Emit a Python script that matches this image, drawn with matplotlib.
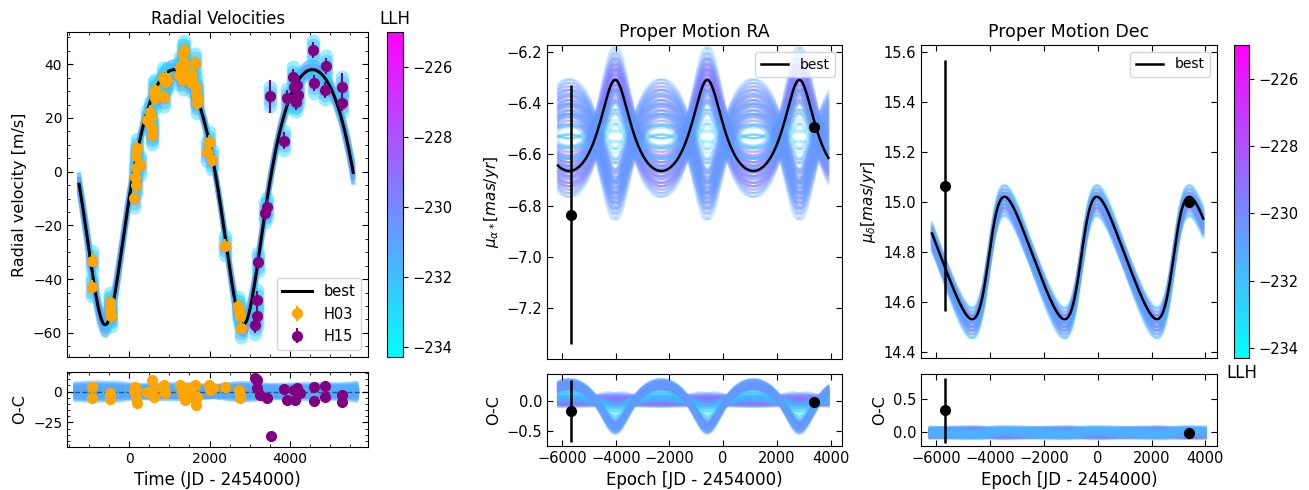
import itertools
import numpy as np
import matplotlib
matplotlib.use("Agg")
import matplotlib.pyplot as plt
from matplotlib.colors import Normalize
from matplotlib.cm import ScalarMappable
from matplotlib.ticker import MultipleLocator

# ---------------- data ----------------
h03_t = [-920, -915, -470, -465, -462, -458, 116, 150, 165, 175, 185, 195, 270,
         447, 529, 545, 560, 571, 630, 635, 640, 853, 862, 900, 930, 944,
         1250, 1275, 1300, 1330, 1350, 1358, 1370, 1400, 1430, 1557, 1570,
         1648, 1660, 1675, 1690, 1700, 1937, 1979, 2062, 2385, 2717, 2735,
         2758, 2790]
h03_rv = [-33.1, -42.9, -48.5, -50.5, -52.5, -53.8, -9.8, -1.8, -4.9, 1.3, 5.7,
          8.8, 2.4, 19.3, 22.4, 20.5, 16.2, 13.7, 29.8, 27.3, 30.5, 35.0, 27.9,
          33.5, 34.8, 34.2, 36.0, 39.1, 38.0, 34.2, 43.7, 45.3, 40.5, 37.5, 36.5,
          36.0, 33.0, 40.4, 31.7, 29.2, 27.9, 25.5, 7.5, 11.2, 4.4, -27.5, -50.1,
          -52.0, -53.8, -58.1]
h03_err = [2.5] * len(h03_t)

h15_t = [3130, 3172, 3175, 3212, 3379, 3437, 3503, 3851, 3934, 4083, 4100, 4124,
         4140, 4180, 4207, 4580, 4590, 4870, 4894, 5284, 5290]
h15_rv = [-56.9, -47.6, -53.8, -33.6, -15.2, -13.2, 28.0, 11.6, 27.3, 35.4, 31.7,
          27.3, 26.0, 32.3, 28.6, 45.3, 32.9, 30.4, 39.4, 31.7, 25.7]
h15_err = [3, 3, 3, 3, 3, 3, 6, 3, 3, 3, 3, 3, 3, 3, 3, 3, 3, 3, 3, 5, 3]

h03_oc_t = [-919, -915, -470, -465, -460, 130, 150, 165, 175, 190, 447, 571, 612,
            620, 862, 870, 900, 1267, 1308, 1350, 1391, 1433, 1516, 1557, 1640,
            1660, 1681, 1980, 2000, 2080, 2393, 2740, 2750, 2758]
h03_oc = [4.1, -4.9, -1.0, -4.0, -6.0, 0.5, 4.1, 1.4, -5.4, -9.5, 0.0, 9.5, 2.7,
          -4.0, 5.4, 1.4, -1.0, 5.5, 0.0, -2.7, -6.8, 2.7, 0.0, -4.0, 5.5, -10.9,
          -4.0, 5.4, 1.4, 2.7, 4.1, 1.4, -2.7, -5.4]
h03_oc_err = [2.5] * len(h03_oc_t)

h15_oc_t = [3138, 3180, 3185, 3263, 3429, 3528, 3843, 3925, 4091, 4133, 4174,
            4257, 4588, 4590, 4878, 4880, 5292, 5295]
h15_oc = [11.4, 9.5, 2.7, -2.7, -5.4, -36.1, 2.2, -6.8, 1.4, -6.8, 2.7, -1.0,
          3.8, -7.6, 4.9, -4.0, -2.7, -8.1]
h15_oc_err = [3, 3, 3, 3, 3, 4, 3, 3, 3, 3, 3, 3, 3, 3, 3, 3, 3, 4]

pm_epoch = [-5651, 3389]
pmra_obs = [-6.835, -6.492]
pmra_err = [0.505, 0.015]
pmdec_obs = [15.064, 14.998]
pmdec_err = [0.503, 0.015]

# best-fit orbit parameters
P_best, tp_best, e_best, omega_best = 3430.0, -590.0, 0.24, np.pi
K_best, gamma_best = 47.5, 1.9
ra_amp, ra_off = 0.1775, -6.530
dec_amp, dec_phase, dec_off = 0.245, 1.49, 14.775

# posterior-sample ensemble (explicit parameter lists)
rv_dK = [-2.0, 0.0, 2.0]
rv_dP = [-25.0, 0.0, 25.0]
rv_dgam = [-1.5, 0.0, 1.5]
halo_shift = [-3.5, -1.8, 0.0, 1.8, 3.5]
halo_llh = [-232.8, -231.7, -230.4, -231.7, -232.8]

ra_frac = [1.3, 1.2, 1.1, 1.0, 0.9, 0.75, 0.5, 0.2, -0.2, -0.5, -0.75, -0.9,
           -1.0, -1.1, -1.2]
ra_frac_llh = [-230.9, -229.7, -228.9, -228.2, -228.7, -229.9, -231.4, -232.8,
               -232.8, -231.4, -230.2, -229.4, -229.0, -229.6, -230.6]
ra_dc = [-0.06, -0.02, 0.02, 0.06]
ra_dt = [-80.0, 0.0, 80.0]

dec_gain = [0.88, 0.94, 1.0, 1.06, 1.12]
dec_gain_llh = [-231.4, -229.5, -228.2, -229.1, -230.8]
dec_dc = [-0.045, -0.015, 0.015]
dec_dphi = [-0.07, 0.0, 0.07]

llh_min, llh_max = -234.3, -225.0
cbar_ticks = [-234, -232, -230, -228, -226]

# ---------------- helpers ----------------
cmap = plt.get_cmap("cool")
norm = Normalize(vmin=llh_min, vmax=llh_max)


def true_anomaly(t, P, tp, e):
    M = 2 * np.pi * (np.asarray(t, float) - tp) / P
    M = np.mod(M + np.pi, 2 * np.pi) - np.pi
    E = M.copy()
    for _ in range(40):
        E = E - (E - e * np.sin(E) - M) / (1 - e * np.cos(E))
    return 2 * np.arctan2(np.sqrt(1 + e) * np.sin(E / 2), np.sqrt(1 - e) * np.cos(E / 2))


def rv_model(t, P, tp, e, w, K, g):
    nu = true_anomaly(t, P, tp, e)
    return K * (np.cos(nu + w) + e * np.cos(w)) + g


t_rv = np.linspace(-1240, 5570, 800)
t_pm = np.linspace(-6150, 3920, 900)

fig = plt.figure(figsize=(13.09, 4.90), dpi=100)


def style(ax, fs=10):
    ax.tick_params(direction="in", top=True, right=True, which="both", labelsize=fs)
    ax.tick_params(which="major", length=4)
    ax.tick_params(which="minor", length=2)


# ================= Radial velocities =================
ax1 = fig.add_axes([0.0512, 0.2714, 0.2300, 0.6633])
ax1o = fig.add_axes([0.0512, 0.0878, 0.2300, 0.1531])

best_rv = rv_model(t_rv, P_best, tp_best, e_best, omega_best, K_best, gamma_best)
t_ref = 2000.0
for dK, dP, dg in itertools.product(rv_dK, rv_dP, rv_dgam):
    Ps = P_best + dP
    tps = t_ref - (t_ref - tp_best) * Ps / P_best
    ys = rv_model(t_rv, Ps, tps, e_best, omega_best, K_best + dK, gamma_best + dg)
    score = abs(dK) / 2 + abs(dP) / 25 + abs(dg) / 1.5
    llh = -229.4 - 0.8 * score
    c = cmap(norm(llh))
    ax1.plot(t_rv, ys, color=c, lw=3, alpha=0.35, zorder=1)
    ax1o.plot(t_rv, ys - best_rv, color=c, lw=8, alpha=0.3, zorder=1)

for sh, hl in zip(halo_shift, halo_llh):
    c = cmap(norm(hl))
    ax1.plot(h03_t, np.array(h03_rv) + sh, "o", ms=10, color=c, mec="none", alpha=0.45, zorder=2)
    ax1.plot(h15_t, np.array(h15_rv) + sh, "o", ms=10, color=c, mec="none", alpha=0.45, zorder=2)

ax1.plot(t_rv, best_rv, color="k", lw=2.2, zorder=3, label="best")
ax1.errorbar(h03_t, h03_rv, yerr=h03_err, fmt="o", color="orange", ms=7, zorder=4, label="H03")
ax1.errorbar(h15_t, h15_rv, yerr=h15_err, fmt="o", color="purple", ms=7, zorder=4, label="H15")
ax1.set_xlim(-1540, 5940)
ax1.set_ylim(-69, 52)
ax1.xaxis.set_major_locator(MultipleLocator(2000))
ax1.xaxis.set_minor_locator(MultipleLocator(500))
ax1.yaxis.set_major_locator(MultipleLocator(20))
ax1.yaxis.set_minor_locator(MultipleLocator(5))
style(ax1, fs=10)
ax1.tick_params(labelbottom=False)
ax1.set_ylabel("Radial velocity [m/s]", fontsize=11.5)
ax1.set_title("Radial Velocities", fontsize=11.9)
ax1.legend(loc="lower right", fontsize=10.5)

ax1o.axhline(0, color="k", ls="--", lw=1, alpha=0.5, zorder=2)
ax1o.errorbar(h03_oc_t, h03_oc, yerr=h03_oc_err, fmt="o", color="orange", ms=7, zorder=4)
ax1o.errorbar(h15_oc_t, h15_oc, yerr=h15_oc_err, fmt="o", color="purple", ms=7, zorder=4)
ax1o.set_xlim(-1540, 5940)
ax1o.set_ylim(-45, 16)
ax1o.xaxis.set_major_locator(MultipleLocator(2000))
ax1o.xaxis.set_minor_locator(MultipleLocator(500))
ax1o.yaxis.set_major_locator(MultipleLocator(25))
ax1o.yaxis.set_minor_locator(MultipleLocator(5))
style(ax1o, fs=10)
ax1o.set_ylabel("O-C", fontsize=11.5)
ax1o.set_xlabel("Time (JD - 2454000)", fontsize=12)

cax1 = fig.add_axes([0.2956, 0.2714, 0.0122, 0.6633])
cb1 = fig.colorbar(ScalarMappable(norm=norm, cmap=cmap), cax=cax1, ticks=cbar_ticks)
cb1.ax.tick_params(labelsize=10.5)
cax1.set_title("LLH", fontsize=12)

# ================= Proper motion RA =================
ax2 = fig.add_axes([0.4179, 0.2673, 0.2254, 0.6408])
ax2o = fig.add_axes([0.4179, 0.0898, 0.2254, 0.1470])

nu_best = true_anomaly(t_pm, P_best, tp_best, e_best)
best_ra = ra_off + ra_amp * (np.cos(nu_best) + e_best)
for (f, fl), dc, dt in itertools.product(list(zip(ra_frac, ra_frac_llh)), ra_dc, ra_dt):
    nu_s = true_anomaly(t_pm, P_best, tp_best + dt, e_best)
    ys = ra_off + dc + f * ra_amp * (np.cos(nu_s) + e_best)
    llh = fl - 0.4 * (abs(dc) / 0.06 + abs(dt) / 80)
    c = cmap(norm(llh))
    a = 0.10 if llh < -232.3 else 0.26
    ax2.plot(t_pm, ys, color=c, lw=1.5, alpha=a, zorder=1)
    ax2o.plot(t_pm, ys - best_ra, color=c, lw=1.5, alpha=a, zorder=1)

ax2.plot(t_pm, best_ra, color="k", lw=1.8, zorder=3, label="best")
ax2.errorbar(pm_epoch, pmra_obs, yerr=pmra_err, fmt="o", color="k", ms=7, lw=1.8, zorder=4)
ax2.set_xlim(-6560, 4430)
ax2.set_ylim(-7.398, -6.174)
ax2.xaxis.set_major_locator(MultipleLocator(2000))
ax2.yaxis.set_major_locator(MultipleLocator(0.2))
style(ax2, fs=10.5)
ax2.tick_params(labelbottom=False)
ax2.set_ylabel(r"$\mu_{\alpha *} [mas/yr]$", fontsize=11)
ax2.set_title("Proper Motion RA", fontsize=12.5)
ax2.legend(loc="upper right", fontsize=10)

best_ra_obs = ra_off + ra_amp * (np.cos(true_anomaly(pm_epoch, P_best, tp_best, e_best)) + e_best)
ax2o.errorbar(pm_epoch, np.array(pmra_obs) - best_ra_obs, yerr=pmra_err, fmt="o", color="k",
              ms=7, lw=1.8, zorder=4)
ax2o.set_xlim(-6560, 4430)
ax2o.set_ylim(-0.747, 0.44)
ax2o.xaxis.set_major_locator(MultipleLocator(2000))
ax2o.yaxis.set_major_locator(MultipleLocator(0.5))
style(ax2o, fs=10.5)
ax2o.set_ylabel("O-C", fontsize=11.5)
ax2o.set_xlabel("Epoch [JD - 2454000)", fontsize=12)

# ================= Proper motion Dec =================
ax3 = fig.add_axes([0.7036, 0.2694, 0.2261, 0.6388])
ax3o = fig.add_axes([0.7036, 0.0898, 0.2261, 0.1470])

best_dec = dec_off + dec_amp * np.cos(nu_best - dec_phase)
for (g, gl), dc, dp in itertools.product(list(zip(dec_gain, dec_gain_llh)), dec_dc, dec_dphi):
    ys = dec_off + dc + g * dec_amp * np.cos(nu_best - dec_phase - dp)
    llh = gl - 0.6 * (abs(dc + 0.015) / 0.03 + abs(dp) / 0.07)
    c = cmap(norm(llh))
    ax3.plot(t_pm, ys, color=c, lw=2, alpha=0.3, zorder=1)
    ax3o.plot(t_pm, ys - best_dec, color=c, lw=5, alpha=0.3, zorder=1)

ax3.plot(t_pm, best_dec, color="k", lw=1.8, zorder=3, label="best")
ax3.errorbar(pm_epoch, pmdec_obs, yerr=pmdec_err, fmt="o", color="k", ms=7, lw=1.8, zorder=4)
ax3.set_xlim(-6560, 4430)
ax3.set_ylim(14.375, 15.627)
ax3.xaxis.set_major_locator(MultipleLocator(2000))
ax3.yaxis.set_major_locator(MultipleLocator(0.2))
style(ax3, fs=10.5)
ax3.tick_params(labelbottom=False)
ax3.set_ylabel(r"$\mu_{\delta} [mas/yr]$", fontsize=11)
ax3.set_title("Proper Motion Dec", fontsize=12.5)
ax3.legend(loc="upper right", fontsize=10)

best_dec_obs = dec_off + dec_amp * np.cos(true_anomaly(pm_epoch, P_best, tp_best, e_best) - dec_phase)
ax3o.errorbar(pm_epoch, np.array(pmdec_obs) - best_dec_obs, yerr=pmdec_err, fmt="o", color="k",
              ms=7, lw=1.8, zorder=4)
ax3o.set_xlim(-6560, 4430)
ax3o.set_ylim(-0.22, 0.89)
ax3o.xaxis.set_major_locator(MultipleLocator(2000))
ax3o.yaxis.set_major_locator(MultipleLocator(0.5))
style(ax3o, fs=10.5)
ax3o.set_ylabel("O-C", fontsize=11.5)
ax3o.set_xlabel("Epoch [JD - 2454000)", fontsize=12)

cax3 = fig.add_axes([0.9427, 0.2694, 0.0115, 0.6388])
cb3 = fig.colorbar(ScalarMappable(norm=norm, cmap=cmap), cax=cax3, ticks=cbar_ticks)
cb3.ax.tick_params(labelsize=10.5)
cax3.set_xlabel("LLH", fontsize=12)

fig.savefig("out.png", dpi=100)
